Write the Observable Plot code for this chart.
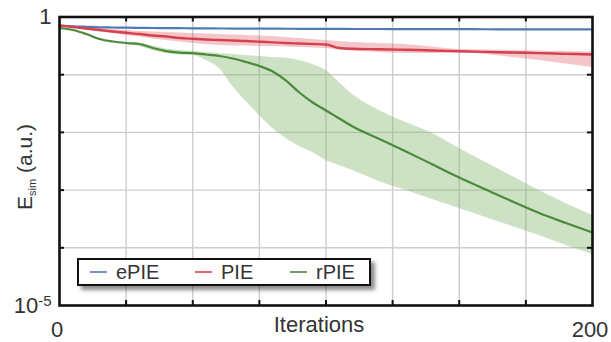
<!DOCTYPE html>
<html>
<head>
<meta charset="utf-8">
<script src="https://cdn.jsdelivr.net/npm/d3@7"></script>
<script src="https://cdn.jsdelivr.net/npm/@observablehq/plot@0.6"></script>
<style>
  html, body { margin: 0; padding: 0; background: #fff; }
  #wrap { position: relative; width: 611px; height: 342px; font-family: "Liberation Sans", Arial, sans-serif; }
  #legend {
    position: absolute; left: 77px; top: 258px; width: 294px; height: 28px;
    box-sizing: border-box; border: 2px solid #111; background: #fff;
    box-shadow: 4px 4px 4px rgba(0,0,0,0.45);
  }
  .item { position: absolute; top: 0; height: 24px; display: flex; align-items: center; }
  .sw { width: 17px; height: 2.5px; margin-right: 9px; }
  .lab { font-size: 20px; color: #333; line-height: 1.15; }
</style>
</head>
<body>
<div id="wrap">
  <div id="chart"></div>
  <div id="legend"></div>
</div>
<script>
// ---- data ----
const iterations = [0,5,10,15,20,25,30,35,40,45,50,55,60,65,70,75,80,85,90,95,100,105,110,120,130,140,150,160,170,180,190,200];

const ePIE = [0.712,0.690,0.676,0.663,0.658,0.653,0.647,0.645,0.642,0.640,0.637,0.634,0.632,0.631,0.630,0.628,0.627,0.626,0.625,0.624,0.622,0.621,0.620,0.619,0.617,0.616,0.615,0.613,0.612,0.611,0.610,0.609];

const PIE    = [0.712,0.671,0.632,0.595,0.561,0.532,0.507,0.478,0.459,0.433,0.419,0.407,0.399,0.391,0.384,0.373,0.364,0.354,0.347,0.340,0.334,0.290,0.281,0.276,0.270,0.263,0.255,0.249,0.242,0.237,0.230,0.224];
const PIE_hi = [0.727,0.698,0.658,0.632,0.607,0.583,0.561,0.550,0.539,0.528,0.518,0.507,0.497,0.488,0.478,0.469,0.459,0.441,0.424,0.407,0.391,0.376,0.361,0.347,0.334,0.302,0.273,0.268,0.263,0.257,0.252,0.247];
const PIE_lo = [0.698,0.645,0.595,0.550,0.518,0.478,0.450,0.416,0.391,0.369,0.347,0.334,0.321,0.314,0.314,0.308,0.308,0.302,0.296,0.290,0.284,0.268,0.257,0.242,0.233,0.233,0.238,0.224,0.199,0.176,0.153,0.133];

const rPIE    = [0.645,0.595,0.507,0.416,0.376,0.354,0.340,0.290,0.257,0.242,0.236,0.224,0.211,0.191,0.166,0.1415,0.1136,0.0793,0.0491,0.0330,0.0240,0.0174,0.01266,0.00769,0.00467,0.00278,0.00165,0.00102,0.000634,0.000401,0.000269,0.000184];
const rPIE_hi = [0.658,0.607,0.518,0.424,0.384,0.361,0.354,0.314,0.279,0.263,0.252,0.242,0.233,0.224,0.215,0.207,0.199,0.195,0.176,0.150,0.1182,0.0732,0.0454,0.0240,0.01484,0.00957,0.00526,0.00301,0.00172,0.000984,0.000586,0.000363];
const rPIE_lo = [0.632,0.583,0.488,0.399,0.361,0.334,0.308,0.263,0.233,0.219,0.215,0.176,0.128,0.0624,0.0343,0.0196,0.01168,0.00784,0.00569,0.00448,0.00326,0.00267,0.00219,0.00141,0.000984,0.000687,0.000480,0.000335,0.000234,0.000163,0.000110,0.0000766];

const xGrid = [25,50,75,100,125,150,175];
const yGrid = [1e-4,1e-3,1e-2,1e-1];
const xTickLabels = [0,200];
const yTickLabels = [1,1e-5];

const seriesNames = ["ePIE","PIE","rPIE"];
const seriesColors = ["#4f7bb5","#d5404c","#4a8a3a"];

// ---- table ----
const rows = iterations.map((it, i) => ({
  it, e: ePIE[i], p: PIE[i], pl: PIE_lo[i], ph: PIE_hi[i],
  r: rPIE[i], rl: rPIE_lo[i], rh: rPIE_hi[i]
}));

const W = 611, H = 342, mt = 16.5, mb = 37, ml = 59, mr = 19;
const innerH = H - mt - mb, innerW = W - ml - mr;
const tick = 5;

const svg = Plot.plot({
  width: W, height: H,
  marginTop: mt, marginBottom: mb, marginLeft: ml, marginRight: mr,
  style: { fontFamily: "Liberation Sans, Arial, sans-serif", color: "#333", background: "transparent", overflow: "visible" },
  x: { domain: [0, 200] },
  y: { type: "log", domain: [1e-5, 1] },
  marks: [
    Plot.gridX(xGrid, { stroke: "#cdcdcd", strokeOpacity: 1, strokeWidth: 1.4 }),
    Plot.gridY(yGrid, { stroke: "#cdcdcd", strokeOpacity: 1, strokeWidth: 1.4 }),
    Plot.areaY(rows, { x: "it", y1: "pl", y2: "ph", fill: "#d9414e", fillOpacity: 0.3, curve: "monotone-x" }),
    Plot.areaY(rows, { x: "it", y1: "rl", y2: "rh", fill: "#83b76f", fillOpacity: 0.4, curve: "monotone-x" }),
    Plot.lineY(rows, { x: "it", y: "e", stroke: seriesColors[0], strokeWidth: 2.2, curve: "monotone-x" }),
    Plot.lineY(rows, { x: "it", y: "p", stroke: seriesColors[1], strokeWidth: 2.4, curve: "monotone-x" }),
    Plot.lineY(rows, { x: "it", y: "r", stroke: seriesColors[2], strokeWidth: 2.2, curve: "monotone-x" }),
    // inward ticks on all four sides
    Plot.tickX(xGrid, { insetTop: innerH - tick, stroke: "#111", strokeWidth: 2 }),
    Plot.tickX(xGrid, { insetBottom: innerH - tick, stroke: "#111", strokeWidth: 2 }),
    Plot.tickY(yGrid, { insetRight: innerW - tick, stroke: "#111", strokeWidth: 2 }),
    Plot.tickY(yGrid, { insetLeft: innerW - tick, stroke: "#111", strokeWidth: 2 }),
    Plot.frame({ stroke: "#111", strokeWidth: 2.6 }),
    Plot.axisX({ ticks: xTickLabels, tickSize: 0, tickPadding: 16, dx: -2.5, fontSize: 22, label: null, tickFormat: d => String(d) }),
    Plot.axisY({ ticks: yTickLabels, tickSize: 0, tickPadding: 8, fontSize: 22, label: null, tickFormat: d => d === 1 ? "1" : "10-5" }),
    Plot.text(["Iterations"], { frameAnchor: "bottom", text: d => d, dx: -7, dy: 19, lineAnchor: "middle", fontSize: 22, fill: "#333" })
  ]
});

document.getElementById("chart").appendChild(svg);

// superscript on the 10^-5 tick label
d3.select(svg).selectAll("text").filter(function () { return this.textContent === "10-5"; })
  .each(function () {
    const t = d3.select(this);
    t.text(null);
    t.append("tspan").text("10");
    t.append("tspan").attr("dy", "-0.45em").attr("font-size", "15px").text("-5");
  });

// y axis title with subscript
const yt = d3.select(svg).append("text")
  .attr("transform", "translate(31.5,167) rotate(-90)")
  .attr("text-anchor", "middle")
  .attr("fill", "#333")
  .attr("font-size", 21)
  .attr("font-family", "Liberation Sans, Arial, sans-serif");
yt.append("tspan").text("E");
yt.append("tspan").attr("font-size", 11).attr("dy", 4).text("sim");
yt.append("tspan").attr("dy", -4).text(" (a.u.)");

// legend
const legend = document.getElementById("legend");
const lefts = [11, 116, 211];
seriesNames.forEach((name, i) => {
  const item = document.createElement("div");
  item.className = "item";
  item.style.left = lefts[i] + "px";
  const sw = document.createElement("div");
  sw.className = "sw";
  sw.style.background = seriesColors[i];
  sw.style.opacity = 0.8;
  const lab = document.createElement("span");
  lab.className = "lab";
  lab.textContent = name;
  item.appendChild(sw); item.appendChild(lab);
  legend.appendChild(item);
});
</script>
</body>
</html>
